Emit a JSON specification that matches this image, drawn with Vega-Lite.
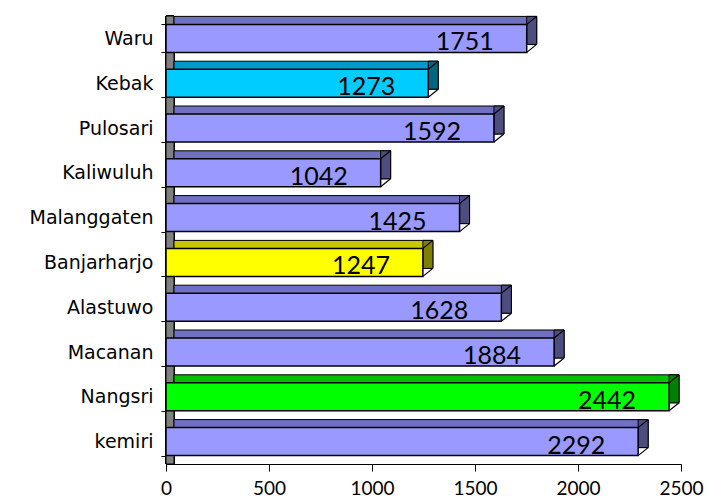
{
  "$schema": "https://vega.github.io/schema/vega-lite/v6.json",
  "width": 515,
  "height": 448,
  "autosize": {"type": "none"},
  "padding": {"left": 166, "top": 16, "right": 27, "bottom": 39},
  "background": "white",
  "config": {"view": {"stroke": null}},
  "data": {"values": [
    {"desa": "Waru", "jumlah": 1751},
    {"desa": "Kebak", "jumlah": 1273},
    {"desa": "Pulosari", "jumlah": 1592},
    {"desa": "Kaliwuluh", "jumlah": 1042},
    {"desa": "Malanggaten", "jumlah": 1425},
    {"desa": "Banjarharjo", "jumlah": 1247},
    {"desa": "Alastuwo", "jumlah": 1628},
    {"desa": "Macanan", "jumlah": 1884},
    {"desa": "Nangsri", "jumlah": 2442},
    {"desa": "kemiri", "jumlah": 2292}
  ]},
  "encoding": {
    "y": {"field": "desa", "type": "nominal", "sort": null,
      "scale": {"paddingInner": 0.375, "paddingOuter": 0.1875},
      "axis": {"title": null, "labelFont": "DejaVu Sans", "labelFontSize": 19, "labelColor": "black",
        "labelPadding": 8, "tickSize": 5, "tickColor": "black", "domainColor": "black", "tickBand": "extent", "domainWidth": 1}},
    "x": {"field": "jumlah", "type": "quantitative",
      "scale": {"domain": [0, 2500], "nice": false},
      "axis": {"title": null, "values": [0, 500, 1000, 1500, 2000, 2500], "format": "d", "grid": false, "labelFont": "Lato", "labelFontSize": 19,
        "labelColor": "black", "tickSize": 7, "tickColor": "black", "domainColor": "black", "labelPadding": 8, "labelFlush": false}}
  },
  "layer": [
    {
      "mark": {"type": "rect", "color": "#808080", "stroke": "black", "strokeWidth": 1, "x2Offset": 8},
      "encoding": {"x": {"datum": 0, "type": "quantitative"}, "x2": {"datum": 0}, "y": null}
    },
    {
      "mark": {"type": "bar", "stroke": "black", "strokeWidth": 1, "xOffset": 10, "x2Offset": 8, "yOffset": -8},
      "encoding": {
        "x2": {"datum": 0},
        "color": {"condition": [
          {"test": "datum.desa === 'Kebak'", "value": "#0099CC"},
          {"test": "datum.desa === 'Banjarharjo'", "value": "#C8C800"},
          {"test": "datum.desa === 'Nangsri'", "value": "#00C000"}
        ], "value": "#7070C0"}
      }
    },
    {
      "mark": {"type": "bar", "stroke": "black", "strokeWidth": 1, "xOffset": 10, "x2Offset": 0, "yOffset": -8},
      "encoding": {
        "x2": {"field": "jumlah"},
        "color": {"condition": [
          {"test": "datum.desa === 'Kebak'", "value": "#006680"},
          {"test": "datum.desa === 'Banjarharjo'", "value": "#808000"},
          {"test": "datum.desa === 'Nangsri'", "value": "#008000"}
        ], "value": "#4D4D80"}
      }
    },
    {
      "mark": {"type": "bar", "stroke": "black", "strokeWidth": 1.5},
      "encoding": {
        "x2": {"datum": 0},
        "color": {"condition": [
          {"test": "datum.desa === 'Kebak'", "value": "#00CCFF"},
          {"test": "datum.desa === 'Banjarharjo'", "value": "#FFFF00"},
          {"test": "datum.desa === 'Nangsri'", "value": "#00FF00"}
        ], "value": "#9999FF"}
      }
    },
    {
      "mark": {"type": "rule", "color": "black", "strokeWidth": 1.2, "x2Offset": 10, "y2Offset": -8},
      "encoding": {
        "x2": {"field": "jumlah"},
        "y": {"field": "desa", "type": "nominal", "sort": null, "bandPosition": 1},
        "y2": {"field": "desa", "bandPosition": 1}
      }
    },
    {
      "mark": {"type": "rule", "color": "black", "strokeWidth": 1.2, "x2Offset": 10, "y2Offset": -8},
      "encoding": {
        "x2": {"field": "jumlah"},
        "y": {"field": "desa", "type": "nominal", "sort": null, "bandPosition": 0},
        "y2": {"field": "desa", "bandPosition": 0}
      }
    },
    {
      "mark": {"type": "text", "font": "Lato", "fontSize": 25, "color": "black", "align": "center", "baseline": "middle", "dx": -62, "dy": 4},
      "encoding": {"text": {"field": "jumlah", "type": "quantitative"}}
    }
  ]
}
